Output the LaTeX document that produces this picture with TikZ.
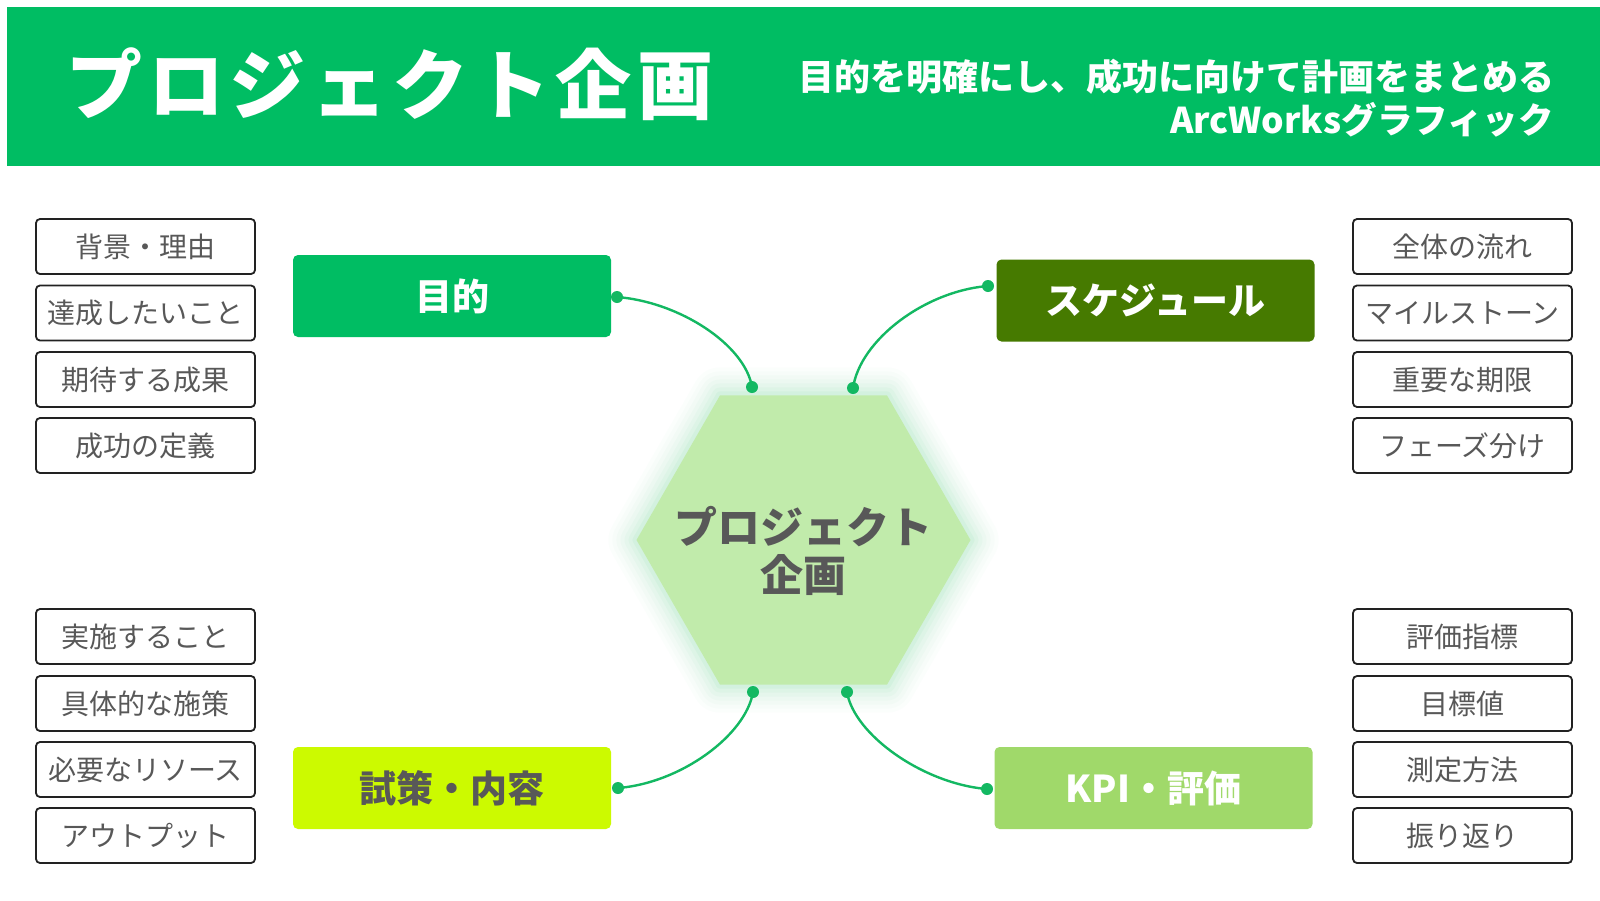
\documentclass[tikz,border=0pt]{standalone}
\usepackage{fontspec}
\newfontfamily\jp{Noto Sans CJK JP}
\usetikzlibrary{calc}
\definecolor{hdr}{RGB}{0,189,99}
\definecolor{schedc}{RGB}{70,122,0}
\definecolor{measc}{RGB}{204,250,0}
\definecolor{kpic}{RGB}{160,217,106}
\definecolor{hexc}{RGB}{193,235,171}
\definecolor{glowc}{RGB}{90,210,140}
\definecolor{linec}{RGB}{19,184,98}
\definecolor{txtgray}{RGB}{88,88,88}
\definecolor{leafborder}{RGB}{34,34,34}
\newcommand{\tsp}{\hspace{5.5pt}}
\begin{document}
\begin{tikzpicture}[x=1pt,y=-1pt,font=\jp,
  leaf/.style={draw=leafborder, line width=1.8pt, rounded corners=4pt, minimum width=219pt, minimum height=55pt, inner sep=0pt, text=txtgray, font=\jp\fontsize{28}{32}\selectfont},
  branch/.style={rounded corners=5pt, minimum width=318pt, minimum height=82pt, inner sep=0pt, font=\jp\bfseries\fontsize{37}{40}\selectfont},
  conn/.style={draw=linec, line width=2.4pt},
  dotc/.style={fill=linec}]
\useasboundingbox (0,0) rectangle (1600,900);
\fill[white] (0,0) rectangle (1600,900);
% header
\fill[hdr] (7,7) rectangle (1600,166);
\node[text=white, font=\jp\bfseries\fontsize{76}{84}\selectfont, inner sep=0pt] (title) at (390,84) {プ\tsp ロ\tsp ジ\tsp ェ\tsp ク\tsp ト\tsp 企\tsp 画};
\node[text=white, font=\jp\bfseries\fontsize{36}{40}\selectfont, anchor=east, inner sep=0pt] (sub1) at (1555,77) {目的を明確にし、成功に向けて計画をまとめる};
\node[text=white, font=\jp\bfseries\fontsize{35.5}{40}\selectfont, anchor=east, inner sep=0pt] (sub2) at (1554,120) {ArcWorksグラフィック};
% hexagon glow and body
\coordinate (hc) at (803.5,540);
\foreach \w/\o in {56/0.02,48/0.025,40/0.03,32/0.035,24/0.045,16/0.055,8/0.07}{
  \draw[glowc, line width=\w pt, opacity=\o, line join=round]
    ($(hc)+(167,0)$) -- ($(hc)+(83.5,144.6)$) -- ($(hc)+(-83.5,144.6)$) -- ($(hc)+(-167,0)$) -- ($(hc)+(-83.5,-144.6)$) -- ($(hc)+(83.5,-144.6)$) -- cycle;
}
\fill[hexc] ($(hc)+(167,0)$) -- ($(hc)+(83.5,144.6)$) -- ($(hc)+(-83.5,144.6)$) -- ($(hc)+(-167,0)$) -- ($(hc)+(-83.5,-144.6)$) -- ($(hc)+(83.5,-144.6)$) -- cycle;
\node[align=center, text=txtgray, font=\jp\bfseries\fontsize{43}{48}\selectfont, inner sep=0pt] (hex) at (803.5,551) {プロジェクト\\企画};
% branches
\node[branch, fill=hdr, text=white] (goal) at (452,296) {目的};
\node[branch, fill=schedc, text=white] (sched) at (1155.5,300.5) {スケジュール};
\node[branch, fill=measc, text=txtgray] (meas) at (452,788) {試策・内容};
\node[branch, fill=kpic, text=white] (kpi) at (1153.5,788) {KPI・評価};
% leaves
\node[leaf] (l1) at (145.5,246.5) {背景・理由};
\node[leaf] (l2) at (145.5,313) {達成したいこと};
\node[leaf] (l3) at (145.5,379.5) {期待する成果};
\node[leaf] (l4) at (145.5,445.5) {成功の定義};
\node[leaf] (r1) at (1462.5,246.5) {全体の流れ};
\node[leaf] (r2) at (1462.5,313) {マイルストーン};
\node[leaf] (r3) at (1462.5,379.5) {重要な期限};
\node[leaf] (r4) at (1462.5,445.5) {フェーズ分け};
\node[leaf] (l5) at (145.5,636.5) {実施すること};
\node[leaf] (l6) at (145.5,703.5) {具体的な施策};
\node[leaf] (l7) at (145.5,769.5) {必要なリソース};
\node[leaf] (l8) at (145.5,835.5) {アウトプット};
\node[leaf] (r5) at (1462.5,636.5) {評価指標};
\node[leaf] (r6) at (1462.5,703.5) {目標値};
\node[leaf] (r7) at (1462.5,769.5) {測定方法};
\node[leaf] (r8) at (1462.5,835.5) {振り返り};
% connector end points
\coordinate (g1) at (617,297);
\coordinate (h1) at (752,387);
\coordinate (h2) at (853,388);
\coordinate (s1) at (988,286);
\coordinate (h3) at (753,692);
\coordinate (m1) at (618,788);
\coordinate (h4) at (847,692);
\coordinate (k1) at (987,789);
\draw[conn] (g1) .. controls (680,302) and (745,345) .. (h1);
\draw[conn] (h2) .. controls (860,340) and (925,291) .. (s1);
\draw[conn] (h3) .. controls (746,735) and (681,783) .. (m1);
\draw[conn] (h4) .. controls (854,735) and (924,784) .. (k1);
\foreach \p in {g1,h1,h2,s1,h3,m1,h4,k1}{\fill[dotc] (\p) circle (6);}
\end{tikzpicture}
\end{document}
